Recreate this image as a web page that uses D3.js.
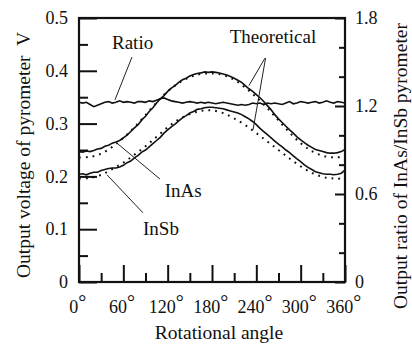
<!DOCTYPE html>
<html>
<head>
<meta charset="utf-8">
<script src="https://cdn.jsdelivr.net/npm/d3@7"></script>
<style>
  html, body { margin: 0; padding: 0; background: #fff; }
</style>
</head>
<body>
<div id="chart"></div>
<script>
// measured angles (deg), every 5 degrees
const angles = [0, 5, 10, 15, 20, 25, 30, 35, 40, 45, 50, 55, 60, 65, 70, 75, 80, 85, 90, 95,
  100, 105, 110, 115, 120, 125, 130, 135, 140, 145, 150, 155, 160, 165, 170, 175, 180, 185, 190, 195,
  200, 205, 210, 215, 220, 225, 230, 235, 240, 245, 250, 255, 260, 265, 270, 275, 280, 285, 290, 295,
  300, 305, 310, 315, 320, 325, 330, 335, 340, 345, 350, 355, 360];

// InAs pyrometer output (V), measured
const inasMeasured = [.247, .246, .248, .247, .249, .252, .253, .257, .259, .263, .265, .268, .273, .278, .285, .292, .298, .307, .314, .323,
  .330, .339, .347, .353, .361, .367, .372, .378, .383, .386, .390, .393, .395, .396, .398, .397, .398, .397, .396, .394,
  .392, .389, .386, .382, .378, .372, .366, .361, .355, .349, .342, .334, .326, .317, .309, .302, .295, .288, .282, .275,
  .269, .264, .259, .255, .251, .249, .247, .245, .244, .244, .245, .247, .251];

// InSb pyrometer output (V), measured
const insbMeasured = [.204, .205, .203, .206, .208, .208, .211, .213, .215, .216, .216, .218, .221, .226, .229, .235, .240, .246, .250, .256,
  .262, .268, .274, .282, .288, .294, .299, .305, .311, .315, .320, .323, .327, .328, .330, .331, .331, .330, .329, .328,
  .326, .324, .322, .320, .317, .313, .309, .304, .298, .291, .285, .279, .273, .267, .261, .256, .250, .245, .239, .233,
  .228, .222, .217, .213, .209, .207, .205, .204, .204, .203, .204, .206, .212];

// output ratio InAs/InSb, measured (right axis)
const ratioMeasured = [1.225, 1.22, 1.225, 1.21, 1.195, 1.205, 1.215, 1.225, 1.23, 1.22, 1.225, 1.235, 1.225, 1.23, 1.225, 1.22, 1.23, 1.23, 1.225, 1.235,
  1.23, 1.24, 1.25, 1.255, 1.245, 1.235, 1.23, 1.225, 1.22, 1.225, 1.23, 1.225, 1.22, 1.225, 1.22, 1.225, 1.22, 1.215, 1.22, 1.225,
  1.22, 1.215, 1.21, 1.205, 1.21, 1.205, 1.21, 1.22, 1.215, 1.22, 1.21, 1.22, 1.215, 1.22, 1.215, 1.21, 1.22, 1.23, 1.215, 1.22,
  1.23, 1.225, 1.22, 1.225, 1.23, 1.22, 1.225, 1.235, 1.225, 1.22, 1.23, 1.225, 1.22];

// theoretical curves, every 15 degrees
const theoAngles = [0, 15, 30, 45, 60, 75, 90, 105, 120, 135, 150, 165, 180, 195, 210, 225, 240, 255, 270, 285, 300, 315, 330, 345, 360];
const inasTheory = [.236, .237, .243, .256, .273, .293, .316, .340, .361, .377, .388, .394, .395, .392, .383, .368, .350, .329, .306, .283, .263, .248, .239, .236, .237];
const insbTheory = [.196, .197, .203, .214, .226, .241, .257, .275, .293, .308, .318, .324, .325, .320, .310, .297, .282, .266, .250, .234, .219, .207, .199, .196, .196];

// axis ticks
const xMajorTicks = [0, 60, 120, 180, 240, 300, 360];
const xMinorTicks = [30, 90, 150, 210, 270, 330];
const yLeftMajor = [0, 0.1, 0.2, 0.3, 0.4, 0.5];
const yLeftMinor = [0.05, 0.15, 0.25, 0.35, 0.45];
const yRightMajor = [0, 0.6, 1.2, 1.8];
const yRightMinor = [0.2, 0.4, 0.8, 1.0, 1.4, 1.6];

// annotations: label, text anchor point [deg, V], leader lines [[deg, V], [deg, V]]
const labels = [
  { text: "Ratio", at: [44.7, 0.441], leaders: [[[71.7, 0.426], [48.7, 0.345]]] },
  { text: "Theoretical", at: [204, 0.453], leaders: [[[251.7, 0.424], [230, 0.372]], [[252.5, 0.424], [235.5, 0.288]]] },
  { text: "InAs", at: [116, 0.161], leaders: [[[51.4, 0.263], [109.6, 0.195]]] },
  { text: "InSb", at: [86.6, 0.089], leaders: [[[37.9, 0.203], [86.6, 0.131]]] }
];

const FONT = "'Liberation Serif', 'DejaVu Serif', 'Times New Roman', serif";
const width = 412, height = 345;
const plot = { left: 79, right: 345, top: 18, bottom: 282 };

const svg = d3.select("#chart").append("svg")
  .attr("width", width)
  .attr("height", height)
  .attr("font-family", FONT);

svg.append("rect").attr("width", width).attr("height", height).attr("fill", "#fff");

const x = d3.scaleLinear().domain([0, 360]).range([plot.left, plot.right]);
const yL = d3.scaleLinear().domain([0, 0.5]).range([plot.bottom, plot.top]);
const yR = d3.scaleLinear().domain([0, 1.8]).range([plot.bottom, plot.top]);

// axes (ticks pointing inward)
function drawAxis(axis, transform) {
  const g = svg.append("g").attr("transform", transform).call(axis)
    .attr("font-family", FONT).attr("font-size", 18);
  g.select(".domain").remove();
  g.selectAll(".tick line").attr("stroke", "#111").attr("stroke-width", 2);
  g.selectAll(".tick text").attr("fill", "#111");
  return g;
}

const fmtY = d => d === 0 ? "0" : d3.format(".1f")(d);

drawAxis(d3.axisBottom(x).tickValues(xMinorTicks).tickSize(-9).tickFormat(""), `translate(0,${plot.bottom})`);
const xAxisG = drawAxis(d3.axisBottom(x).tickValues(xMajorTicks).tickSize(-17).tickPadding(18).tickFormat(d => d), `translate(0,${plot.bottom})`);
drawAxis(d3.axisLeft(yL).tickValues(yLeftMinor).tickSize(-9).tickFormat(""), `translate(${plot.left},0)`);
drawAxis(d3.axisLeft(yL).tickValues(yLeftMajor).tickSize(-18).tickPadding(11).tickFormat(fmtY), `translate(${plot.left},0)`);
drawAxis(d3.axisRight(yR).tickValues(yRightMinor).tickSize(-6).tickFormat(""), `translate(${plot.right},0)`);
drawAxis(d3.axisRight(yR).tickValues(yRightMajor).tickSize(-10).tickPadding(10).tickFormat(fmtY), `translate(${plot.right},0)`);

// raised degree sign on angle labels
xAxisG.selectAll(".tick text")
  .attr("dx", "-0.1em")
  .append("tspan")
  .attr("dy", -4)
  .attr("font-size", 20)
  .text("°");

// frame
svg.append("rect")
  .attr("x", plot.left).attr("y", plot.top)
  .attr("width", plot.right - plot.left).attr("height", plot.bottom - plot.top)
  .attr("fill", "none").attr("stroke", "#111").attr("stroke-width", 2.2);

// measured curves
const lineL = d3.line().x((d, i) => x(angles[i])).y(d => yL(d));
const lineR = d3.line().x((d, i) => x(angles[i])).y(d => yR(d));

[inasMeasured, insbMeasured].forEach(series => {
  svg.append("path").datum(series)
    .attr("d", lineL)
    .attr("fill", "none").attr("stroke", "#111").attr("stroke-width", 1.6);
});

svg.append("path").datum(ratioMeasured)
  .attr("d", lineR)
  .attr("fill", "none").attr("stroke", "#111").attr("stroke-width", 1.6);

// theoretical (dotted)
const lineT = d3.line().x((d, i) => x(theoAngles[i])).y(d => yL(d)).curve(d3.curveCatmullRom);
[inasTheory, insbTheory].forEach(series => {
  svg.append("path").datum(series)
    .attr("d", lineT)
    .attr("fill", "none").attr("stroke", "#111").attr("stroke-width", 2)
    .attr("stroke-dasharray", "1.8,5");
});

// annotations
labels.forEach(l => {
  l.leaders.forEach(seg => {
    svg.append("line")
      .attr("x1", x(seg[0][0])).attr("y1", yL(seg[0][1]))
      .attr("x2", x(seg[1][0])).attr("y2", yL(seg[1][1]))
      .attr("stroke", "#222").attr("stroke-width", 1);
  });
  svg.append("text")
    .attr("x", x(l.at[0])).attr("y", yL(l.at[1]))
    .attr("font-family", FONT).attr("font-size", 19).attr("fill", "#111")
    .text(l.text);
});

// axis titles
svg.append("text")
  .attr("transform", `translate(30,155) rotate(-90)`)
  .attr("text-anchor", "middle")
  .style("white-space", "pre")
  .attr("font-family", FONT).attr("font-size", 19.5).attr("fill", "#111")
  .text("Output voltage of pyrometer  V");

svg.append("text")
  .attr("transform", `translate(407,166) rotate(-90)`)
  .attr("text-anchor", "middle")
  .attr("font-family", FONT).attr("font-size", 19.5).attr("fill", "#111")
  .text("Output ratio of InAs/InSb pyrometer");

svg.append("text")
  .attr("x", 219).attr("y", 339)
  .attr("text-anchor", "middle")
  .attr("font-family", FONT).attr("font-size", 19.5).attr("fill", "#111")
  .text("Rotational angle");
</script>
</body>
</html>
